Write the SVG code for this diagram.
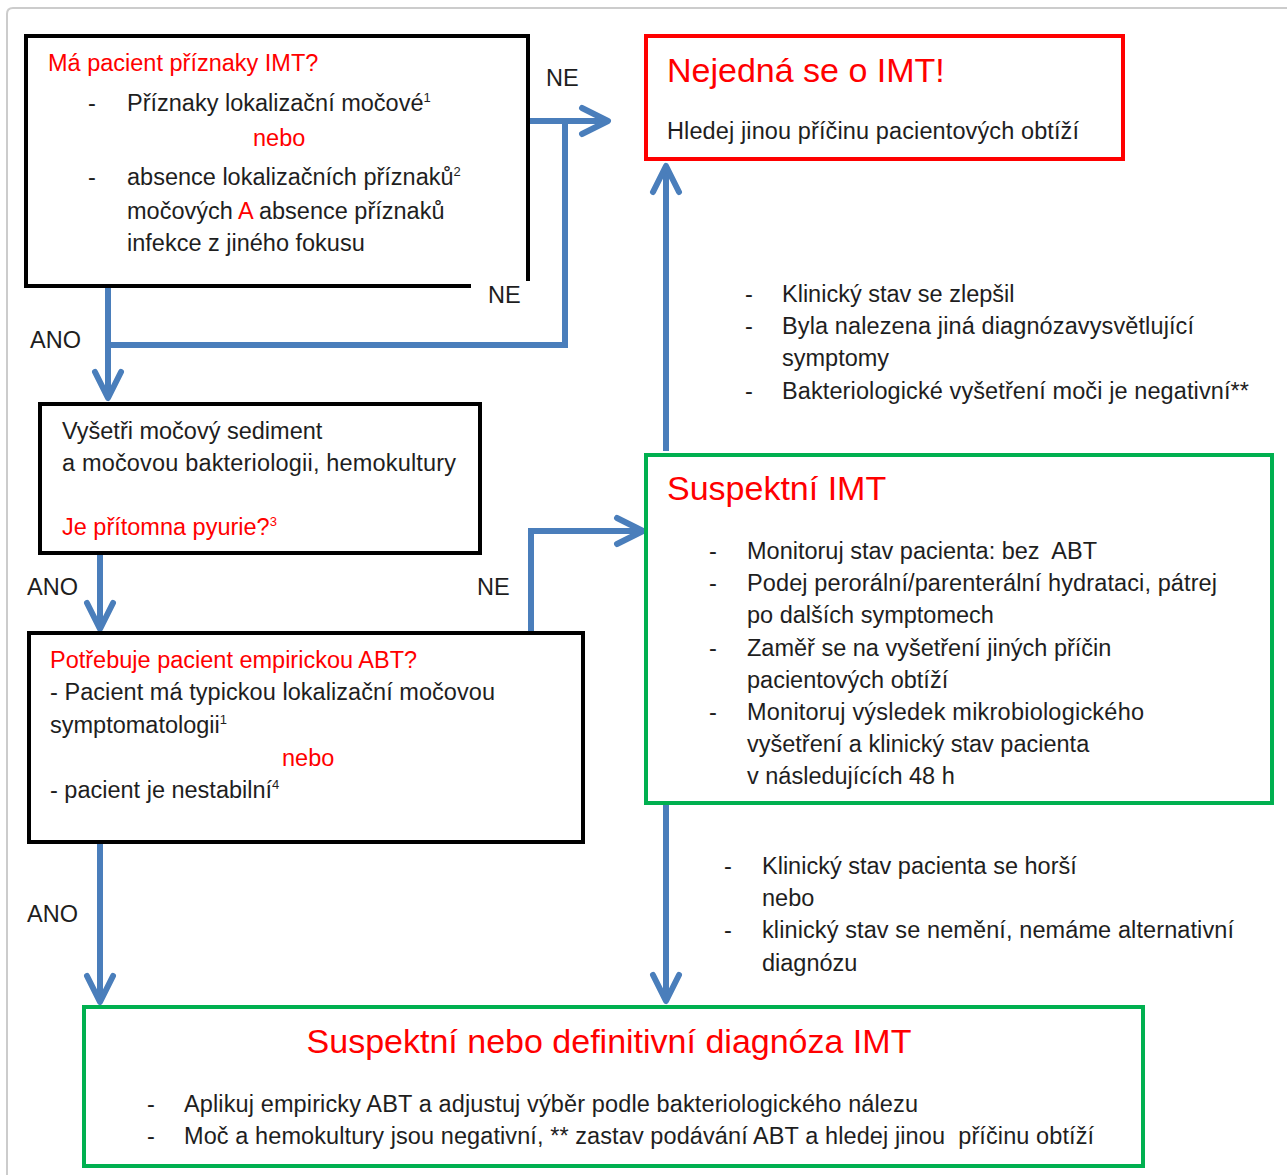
<svg xmlns="http://www.w3.org/2000/svg" width="1287" height="1175" viewBox="0 0 1287 1175">
<defs>
<style>
text{font-family:"Liberation Sans",Arial,sans-serif;font-size:23.5px;fill:#1e1e1e}
.r{fill:#ff0000}
.t{font-size:34px;fill:#ff0000}
.sup{font-size:13px}
.box{fill:none;stroke-width:4}
.blk{stroke:#000}
.red{stroke:#ff0000}
.grn{stroke:#00b050}
.con{fill:none;stroke:#4a7ebb;stroke-width:6}
</style>
<marker id="arr" markerUnits="userSpaceOnUse" viewBox="-30 -18 36 36" markerWidth="36" markerHeight="36" refX="0" refY="0" orient="auto">
<path d="M-24,-13 L2,0 L-24,13" fill="none" stroke="#4a7ebb" stroke-width="6" stroke-linecap="round" stroke-linejoin="round"/>
</marker>
</defs>
<rect width="1287" height="1175" fill="#fff"/>
<path d="M7,1175 V14 Q7,8 13,8 H1287" fill="none" stroke="#cccccc" stroke-width="2"/>

<g id="connectors">
<path class="con" d="M528,121 H606" marker-end="url(#arr)"/>
<path class="con" d="M565,121 V345 H108"/>
<path class="con" d="M108,287 V396" marker-end="url(#arr)"/>
<path class="con" d="M100,554 V627" marker-end="url(#arr)"/>
<path class="con" d="M531,633 V531 H641" marker-end="url(#arr)"/>
<path class="con" d="M100,843 V1000" marker-end="url(#arr)"/>
<path class="con" d="M666,451 V168" marker-end="url(#arr)"/>
<path class="con" d="M666,805 V999" marker-end="url(#arr)"/>
<text x="546" y="86">NE</text>
<text x="488" y="303">NE</text>
<text x="30" y="348">ANO</text>
<text x="27" y="595">ANO</text>
<text x="477" y="595">NE</text>
<text x="27" y="922">ANO</text>
<text x="745" y="302">-</text>
<text x="782" y="302">Klinický stav se zlepšil</text>
<text x="745" y="334">-</text>
<text x="782" y="334" textLength="412">Byla nalezena jiná diagnózavysvětlující</text>
<text x="782" y="366">symptomy</text>
<text x="745" y="399">-</text>
<text x="782" y="399" textLength="467">Bakteriologické vyšetření moči je negativní**</text>
<text x="724" y="874">-</text>
<text x="762" y="874">Klinický stav pacienta se horší</text>
<text x="762" y="906">nebo</text>
<text x="724" y="938">-</text>
<text x="762" y="938" textLength="472">klinický stav se nemění, nemáme alternativní</text>
<text x="762" y="971">diagnózu</text>
</g>

<g id="node-symptoms">
<path class="box blk" d="M471,286 H26 V36 H528 V281"/>
<text class="r" x="48" y="71">Má pacient příznaky IMT?</text>
<text x="88" y="111">-</text>
<text x="127" y="111">Příznaky lokalizační močové<tspan class="sup" dy="-9">1</tspan></text>
<text class="r" x="253" y="146">nebo</text>
<text x="88" y="185">-</text>
<text x="127" y="185">absence lokalizačních příznaků<tspan class="sup" dy="-9">2</tspan></text>
<text x="127" y="219">močových <tspan class="r">A</tspan> absence příznaků</text>
<text x="127" y="251">infekce z jiného fokusu</text>
</g>

<g id="node-sediment">
<rect class="box blk" x="40" y="404" width="440" height="149"/>
<text x="62" y="439">Vyšetři močový sediment</text>
<text x="62" y="471" textLength="394">a močovou bakteriologii, hemokultury</text>
<text class="r" x="62" y="535">Je přítomna pyurie?<tspan class="sup" dy="-9">3</tspan></text>
</g>

<g id="node-abt">
<rect class="box blk" x="29" y="633" width="554" height="209"/>
<text class="r" x="50" y="668">Potřebuje pacient empirickou ABT?</text>
<text x="50" y="700" textLength="445">- Pacient má typickou lokalizační močovou</text>
<text x="50" y="733">symptomatologii<tspan class="sup" dy="-9">1</tspan></text>
<text class="r" x="282" y="766">nebo</text>
<text x="50" y="798">- pacient je nestabilní<tspan class="sup" dy="-9">4</tspan></text>
</g>

<g id="node-not-imt">
<rect class="box red" x="646" y="36" width="477" height="123"/>
<text class="t" x="667" y="82">Nejedná se o IMT!</text>
<text x="667" y="139" textLength="412">Hledej jinou příčinu pacientových obtíží</text>
</g>

<g id="node-suspect">
<rect class="box grn" x="646" y="455" width="626" height="348"/>
<text class="t" x="667" y="500">Suspektní IMT</text>
<text x="709" y="559">-</text>
<text x="747" y="559" xml:space="preserve">Monitoruj stav pacienta: bez  ABT</text>
<text x="709" y="591">-</text>
<text x="747" y="591" textLength="470">Podej perorální/parenterální hydrataci, pátrej</text>
<text x="747" y="623">po dalších symptomech</text>
<text x="709" y="656">-</text>
<text x="747" y="656">Zaměř se na vyšetření jiných příčin</text>
<text x="747" y="688">pacientových obtíží</text>
<text x="709" y="720">-</text>
<text x="747" y="720" textLength="397">Monitoruj výsledek mikrobiologického</text>
<text x="747" y="752">vyšetření a klinický stav pacienta</text>
<text x="747" y="784">v následujících 48 h</text>
</g>

<g id="node-diagnosis">
<rect class="box grn" x="84" y="1007" width="1059" height="159"/>
<text class="t" x="609" y="1053" text-anchor="middle">Suspektní nebo definitivní diagnóza IMT</text>
<text x="147" y="1112">-</text>
<text x="184" y="1112" textLength="734">Aplikuj empiricky ABT a adjustuj výběr podle bakteriologického nálezu</text>
<text x="147" y="1144">-</text>
<text x="184" y="1144" textLength="910" xml:space="preserve">Moč a hemokultury jsou negativní, ** zastav podávání ABT a hledej jinou  příčinu obtíží</text>
</g>
</svg>
